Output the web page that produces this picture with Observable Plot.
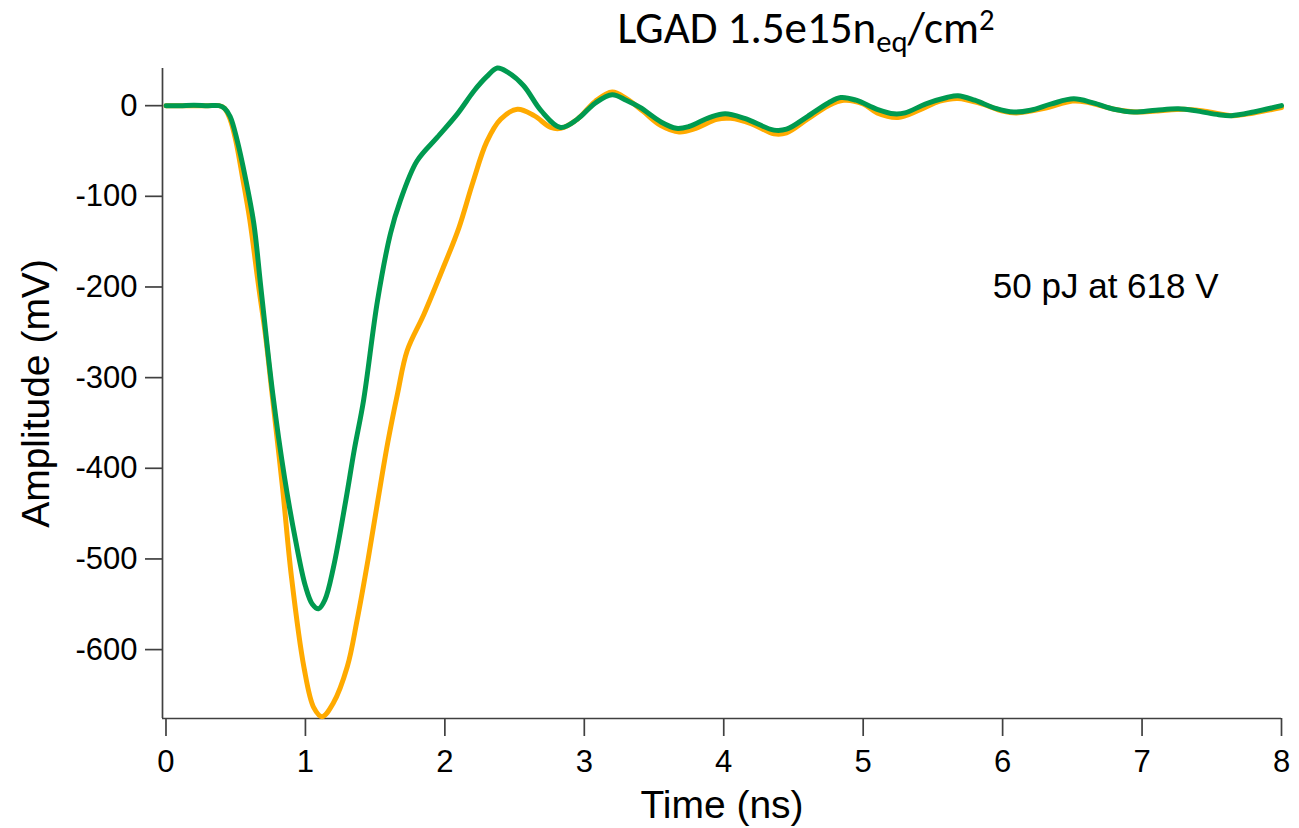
<!DOCTYPE html>
<html><head><meta charset="utf-8">
<script src="https://cdn.jsdelivr.net/npm/d3@7"></script>
<script src="https://cdn.jsdelivr.net/npm/@observablehq/plot@0.6"></script>
<style>
body{margin:0;background:#fff;}
#wrap{position:relative;width:1299px;height:828px;overflow:hidden;background:#fff;}
#title{position:absolute;z-index:2;top:0;left:806px;transform:translateX(-50%);white-space:nowrap;font-family:"Carlito","Open Sans",sans-serif;font-size:45px;line-height:normal;color:#000;}
#title .sub{font-size:0.68em;position:relative;top:0.28em;}
#title .sup{font-size:0.68em;position:relative;top:-0.42em;}
#chart{position:absolute;z-index:1;top:50px;left:0;}
</style></head><body>
<div id="wrap"><div id="title">LGAD 1.5e15n<span class="sub">eq</span>/cm<span class="sup">2</span></div><div id="chart"></div></div>
<script>
const xTicks = [0, 1, 2, 3, 4, 5, 6, 7, 8];
const yTicks = [0, -100, -200, -300, -400, -500, -600];
const xDomain = [-0.025, 8];
const yDomain = [-676, 41];
const xLabel = "Time (ns)";
const yLabel = "Amplitude (mV)";
const noteText = ["50 pJ at 618 V"];
const noteX = [5.93];
const noteY = [-200];

const orangeTime = [0,0.1,0.2,0.3,0.38,0.42,0.46,0.5,0.55,0.6,0.665,0.715,0.76,0.835,0.9,0.99,1.06,1.12,1.2,1.3,1.37,1.45,1.52,1.59,1.66,1.73,1.85,1.99,2.1,2.2,2.3,2.4,2.52,2.64,2.76,2.83,2.95,3.08,3.2,3.3,3.42,3.55,3.68,3.8,3.95,4.05,4.2,4.36,4.45,4.6,4.75,4.86,5.0,5.1,5.25,5.4,5.55,5.68,5.85,6.0,6.1,6.3,6.5,6.6,6.8,6.95,7.1,7.3,7.45,7.65,7.8,8.0];
const orangeAmp = [0,0,0,0,0,-3,-15,-38,-80,-125,-200,-255,-317,-420,-520,-620,-664,-674,-659,-619,-568,-500,-435,-372,-318,-270,-230,-178,-135,-85,-40,-15,-4,-11,-24,-25,-15,5,15,8,-6,-22,-29,-25,-15,-14,-20,-31,-30,-15,0,6,2,-8,-13,-5,5,8,2,-6,-8,-3,5,4,-4,-7,-6,-4,-6,-11,-8,-2];

const greenTime = [0,0.1,0.2,0.3,0.38,0.42,0.46,0.51,0.57,0.63,0.68,0.765,0.85,0.93,1.0,1.05,1.094,1.14,1.2,1.29,1.35,1.417,1.517,1.61,1.68,1.8,1.945,2.09,2.21,2.3,2.376,2.45,2.565,2.69,2.83,2.95,3.08,3.2,3.3,3.4,3.55,3.66,3.75,3.9,4.01,4.15,4.36,4.45,4.6,4.75,4.84,4.95,5.1,5.22,5.3,5.45,5.6,5.68,5.8,5.95,6.08,6.2,6.35,6.51,6.65,6.8,6.94,7.1,7.26,7.4,7.55,7.64,7.8,8.0];
const greenAmp = [0,0,0.5,0,0,-3,-12,-38,-80,-130,-200,-317,-410,-480,-530,-550,-555,-545,-510,-435,-380,-325,-215,-141,-105,-61,-35,-9,16.5,32,41.5,37,22,-5.5,-24,-15,3,12,6,-2,-18,-25,-23,-13,-9,-14,-27,-26,-12,3,9,6,-4,-9,-8,2,9,11,6,-3,-7,-5,2,7.5,3,-4,-7,-5,-3.5,-6,-10,-11,-7,0];

const orange = orangeTime.map((t, i) => ({t, v: orangeAmp[i]}));
const green = greenTime.map((t, i) => ({t, v: greenAmp[i]}));
const axisColor = "#404040";

const chart = Plot.plot({
  width: 1299,
  height: 778,
  marginTop: 18,
  marginBottom: 110,
  marginLeft: 162,
  marginRight: 18,
  style: {fontFamily: "'Liberation Sans', Arial, sans-serif", background: "transparent", color: "#000"},
  x: {domain: xDomain},
  y: {domain: yDomain},
  marks: [
    Plot.ruleX([xDomain[0]], {stroke: axisColor, strokeWidth: 1.7}),
    Plot.ruleY([yDomain[0]], {stroke: axisColor, strokeWidth: 1.7}),
    Plot.axisX({ticks: xTicks, tickSize: 18, tickPadding: 13, fontSize: 31, label: null, stroke: axisColor, strokeWidth: 1.7, fill: "#000", tickFormat: d => String(d)}),
    Plot.axisY({ticks: yTicks, tickSize: 17, tickPadding: 8, fontSize: 31, label: null, stroke: axisColor, strokeWidth: 1.7, fill: "#000", tickFormat: d => String(d)}),
    Plot.line(orange, {x: "t", y: "v", stroke: "#ffaa00", strokeWidth: 5, curve: "catmull-rom", strokeLinejoin: "round"}),
    Plot.line(green, {x: "t", y: "v", stroke: "#009a50", strokeWidth: 5, curve: "catmull-rom", strokeLinejoin: "round"}),
    Plot.text([xLabel], {frameAnchor: "bottom", dy: 99, fontSize: 39, fill: "#000"}),
    Plot.text([yLabel], {frameAnchor: "left", textAnchor: "middle", dx: -126, rotate: -90, fontSize: 39, fill: "#000"}),
    Plot.text(noteText, {x: noteX, y: noteY, text: d => d, textAnchor: "start", fontSize: 35, fill: "#000"})
  ]
});
document.getElementById("chart").appendChild(chart);
</script>
</body></html>
